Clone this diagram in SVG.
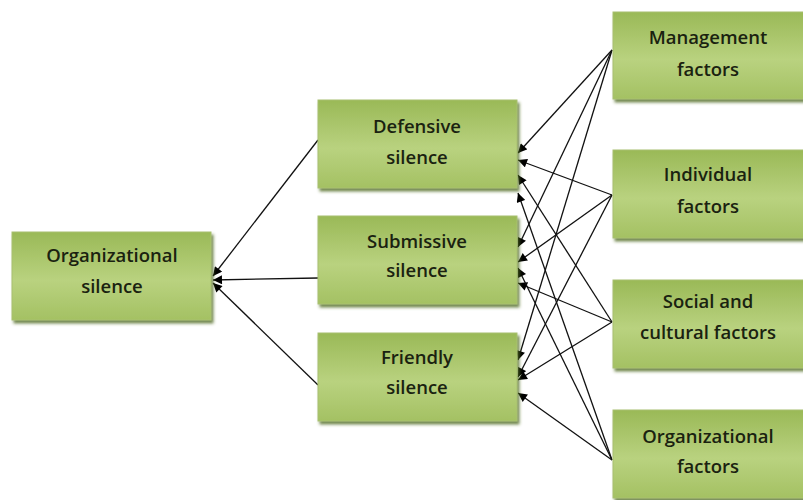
<svg xmlns="http://www.w3.org/2000/svg" width="803" height="500" viewBox="0 0 803 500">
<defs>
<linearGradient id="g" x1="0" y1="0" x2="0" y2="1">
<stop offset="0" stop-color="#9ab957"/>
<stop offset="0.55" stop-color="#b9d27f"/>
<stop offset="1" stop-color="#a4c163"/>
</linearGradient>
<filter id="sh" x="-10%" y="-10%" width="125%" height="130%">
<feGaussianBlur in="SourceAlpha" stdDeviation="1.5"/>
<feOffset dx="2" dy="3" result="b"/>
<feFlood flood-color="#4f6a22" flood-opacity="0.8"/>
<feComposite in2="b" operator="in"/>
<feMerge><feMergeNode/><feMergeNode in="SourceGraphic"/></feMerge>
</filter>
<marker id="a" viewBox="0 0 10 10" refX="10" refY="5" markerWidth="10" markerHeight="9" markerUnits="userSpaceOnUse" orient="auto">
<path d="M0,0 L10,5 L0,10 z" fill="#000"/>
</marker>
</defs>
<style>
.box{fill:url(#g);stroke:#a8c070;stroke-width:1;filter:url(#sh)}
.t{font-family:"Open Sans","Liberation Sans",Arial,sans-serif;font-weight:600;font-size:18.5px;fill:#1a2210;text-anchor:middle}
.c line{stroke:#111;stroke-width:1.3;marker-end:url(#a)}
</style>
<rect width="803" height="500" fill="#fff"/>
<g class="c" id="connectors">
<line x1="318" y1="140" x2="213" y2="276"/>
<line x1="318" y1="278" x2="213" y2="280"/>
<line x1="318" y1="385" x2="213" y2="283"/>
<line x1="612" y1="50" x2="518" y2="153"/>
<line x1="612" y1="50" x2="518" y2="247"/>
<line x1="612" y1="50" x2="518" y2="360"/>
<line x1="612" y1="195" x2="518" y2="160"/>
<line x1="612" y1="195" x2="518" y2="262"/>
<line x1="612" y1="195" x2="518" y2="377"/>
<line x1="612" y1="322" x2="518" y2="175"/>
<line x1="612" y1="322" x2="518" y2="283"/>
<line x1="612" y1="322" x2="518" y2="380"/>
<line x1="612" y1="460" x2="518" y2="193"/>
<line x1="612" y1="460" x2="518" y2="268"/>
<line x1="612" y1="460" x2="518" y2="393"/>
</g>
<g id="org-silence"><rect class="box" x="12" y="232" width="199" height="88"/><text class="t" x="112" y="262">Organizational</text><text class="t" x="112" y="293">silence</text></g>
<g id="defensive"><rect class="box" x="318" y="100" width="199" height="88"/><text class="t" x="417" y="133">Defensive</text><text class="t" x="417" y="164">silence</text></g>
<g id="submissive"><rect class="box" x="318" y="216" width="199" height="88"/><text class="t" x="417" y="248">Submissive</text><text class="t" x="417" y="277">silence</text></g>
<g id="friendly"><rect class="box" x="318" y="333" width="199" height="88"/><text class="t" x="417" y="364">Friendly</text><text class="t" x="417" y="394">silence</text></g>
<g id="management"><rect class="box" x="613" y="12" width="192" height="87"/><text class="t" x="708" y="44">Management</text><text class="t" x="708" y="76">factors</text></g>
<g id="individual"><rect class="box" x="613" y="150" width="192" height="88"/><text class="t" x="708" y="181">Individual</text><text class="t" x="708" y="213">factors</text></g>
<g id="social"><rect class="box" x="613" y="280" width="192" height="88"/><text class="t" x="708" y="308">Social and</text><text class="t" x="708" y="339">cultural factors</text></g>
<g id="org-factors"><rect class="box" x="613" y="410" width="192" height="88"/><text class="t" x="708" y="443">Organizational</text><text class="t" x="708" y="473">factors</text></g>
</svg>
